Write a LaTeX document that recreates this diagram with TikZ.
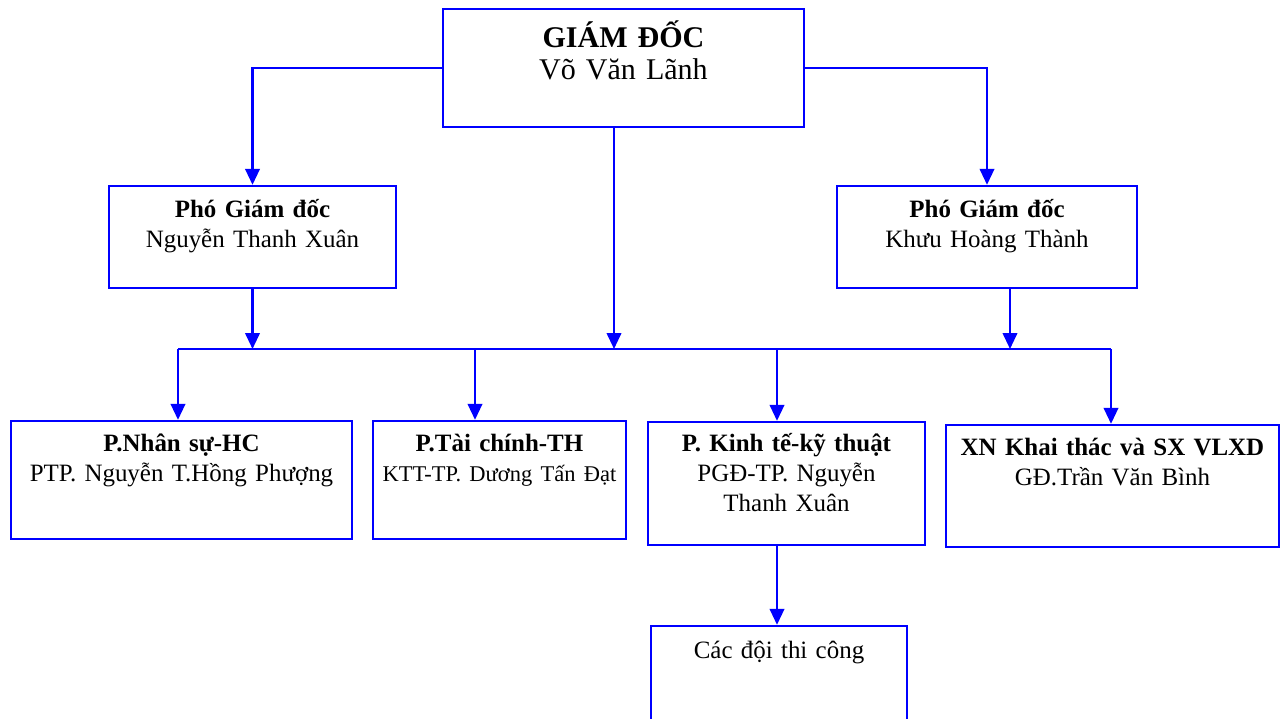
\documentclass[tikz,border=0pt]{standalone}
\usepackage{fontspec}
\setmainfont{Liberation Serif}
\usetikzlibrary{positioning}
\usetikzlibrary{arrows.meta}

\newcommand{\gdfont}{\fontsize{17.1}{18.2}\selectfont}
\newcommand{\boxfont}{\fontsize{14.2}{17.1}\selectfont}
\newcommand{\ktfont}{\fontsize{12.8}{17.1}\selectfont}

\tikzset{
  unit/.style={draw=blue, line width=1.35pt},
  wire/.style={blue, line width=1.35pt},
  link/.style={wire, -{Triangle[width=0.29cm,length=0.32cm]}},
  txt/.style={anchor=base, align=center, inner sep=0pt, font=\boxfont}
}

\begin{document}
\begin{tikzpicture}[x=0.02cm, y=-0.02cm]
\useasboundingbox (0,0) rectangle (1280,718);

% boxes
{
\node[unit, minimum width=7.22cm, minimum height=2.36cm] (gd) at (623.5,68) {};

\node[unit, minimum width=5.74cm, minimum height=2.04cm] (pgd1) at (252.5,237) {};
\node[unit, minimum width=6cm, minimum height=2.04cm] (pgd2) at (987,237) {};

\node[unit, minimum width=6.82cm, minimum height=2.36cm] (p1) at (181.5,480) {};
\node[unit, minimum width=5.06cm, minimum height=2.36cm] (p2) at (499.5,480) {};
\node[unit, minimum width=5.54cm, minimum height=2.46cm] (p3) at (786.5,483.5) {};
\node[unit, minimum width=6.66cm, minimum height=2.44cm] (p4) at (1112.5,486) {};

\node[unit, minimum width=5.12cm, minimum height=2.4cm] (doi) at (779,686) {};
}

% nodes
{
\node[txt, text width=7cm, font=\gdfont] (gdtxt) at ([yshift=-0.8cm]gd.north)
{\textbf{GIÁM ĐỐC}\\Võ Văn Lãnh};

\node[txt, text width=5.6cm] (pgd1txt) at ([yshift=-0.66cm]pgd1.north)
{\textbf{Phó Giám đốc}\\Nguyễn Thanh Xuân};
\node[txt, text width=5.8cm] (pgd2txt) at ([yshift=-0.66cm]pgd2.north)
{\textbf{Phó Giám đốc}\\Khưu Hoàng Thành};

\node[txt, text width=6.7cm] (p1txt) at ([yshift=-0.64cm]p1.north)
{\textbf{P.Nhân sự-HC}\\PTP. Nguyễn T.Hồng Phượng};
\node[txt, text width=4.9cm] (p2txt) at ([yshift=-0.64cm]p2.north)
{\textbf{P.Tài chính-TH}\\{\ktfont KTT-TP. Dương Tấn Đạt}};
\node[txt, text width=5.4cm] (p3txt) at ([yshift=-0.62cm]p3.north)
{\textbf{P. Kinh tế-kỹ thuật}\\PGĐ-TP. Nguyễn\\Thanh Xuân};
\node[txt, text width=6.5cm] (p4txt) at ([yshift=-0.64cm]p4.north)
{\textbf{XN Khai thác và SX VLXD}\\GĐ.Trần Văn Bình};

\node[txt, text width=5cm] (doitxt) at ([yshift=-0.68cm]doi.north)
{Các đội thi công};
}

%arrows
{
\coordinate (b1) at (178,349);
\coordinate (b2) at (475,349);
\coordinate (b3) at (777,349);
\coordinate (b4) at (1111,349);
\coordinate (gdout) at ([xshift=-0.19cm]gd.south);
\coordinate (pgd2out) at ([xshift=0.46cm]pgd2.south);

\draw[wire] (b1) -- (b4);

\draw[link] (gd.west) -| (pgd1.north);
\draw[link] (gd.east) -| (pgd2.north);

\draw[link] (gdout) -- (gdout |- b1);
\draw[link] (pgd1.south) -- (pgd1.south |- b1);
\draw[link] (pgd2out) -- (pgd2out |- b1);

\foreach \b/\p in {b1/p1, b2/p2, b3/p3, b4/p4}
  \draw[link] (\b) -- (\b |- \p.north);

\draw[link] (b3 |- p3.south) -- (b3 |- doi.north);
}

\end{tikzpicture}
\end{document}
